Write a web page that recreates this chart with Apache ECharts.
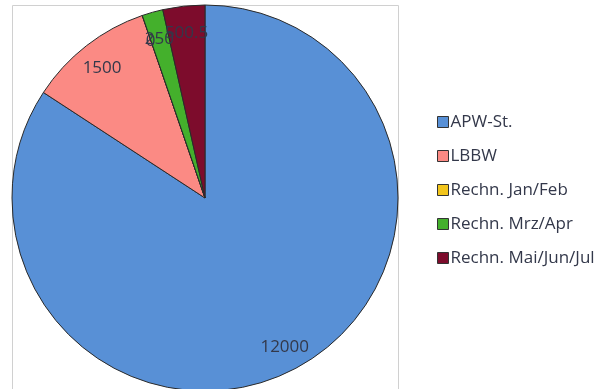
<!DOCTYPE html>
<html style="height: 100%">
<head>
<meta charset="utf-8">
<script src="https://cdn.jsdelivr.net/npm/echarts@6/dist/echarts.min.js"></script>
</head>
<body style="height: 100%; margin: 0; background: #fff">
<div id="container" style="width: 603px; height: 389px"></div>
<script type="text/javascript">
// slices, clockwise from 12 o'clock
var names = ['APW-St.', 'LBBW', 'Rechn. Jan/Feb', 'Rechn. Mrz/Apr', 'Rechn. Mai/Jun/Jul'];
var values = [12000, 1500, 0, 250, 500.5];
var colors = ['#5890d6', '#fb8a84', '#f2c51c', '#44b02c', '#7d0c2c'];

var pieData = names.map(function (n, i) {
    return { name: n, value: values[i], itemStyle: { color: colors[i] } };
});

var myChart = echarts.init(document.getElementById('container'));
var option = {
    backgroundColor: '#fff',
    animation: false,
    color: colors,
    graphic: [{
        type: 'rect',
        shape: { x: 12.5, y: 5.5, width: 386, height: 400 },
        style: { fill: 'none', stroke: '#d0d0d0', lineWidth: 1 },
        silent: true,
        z: -1
    }],
    legend: {
        orient: 'vertical',
        left: 432,
        top: 107,
        itemGap: 14,
        itemWidth: 11,
        itemHeight: 11,
        icon: 'rect',
        itemStyle: { borderColor: '#333', borderWidth: 1 },
        textStyle: { fontFamily: 'Open Sans', fontSize: 17, lineHeight: 20, color: '#33384a', padding: [0, 0, 0, -3] },
        data: names
    },
    series: [
        {
            name: 'pie',
            type: 'pie',
            center: [205, 198],
            radius: 193,
            startAngle: 90,
            clockwise: true,
            avoidLabelOverlap: false,
            itemStyle: { borderColor: '#2a2a2a', borderWidth: 1 },
            label: { show: false },
            labelLine: { show: false },
            emphasis: { disabled: true },
            data: pieData
        },
        {
            // transparent ring, only used to put the value labels near the rim
            name: 'labels',
            type: 'pie',
            center: [205, 200],
            radius: [136, 193],
            startAngle: 90,
            clockwise: true,
            silent: true,
            avoidLabelOverlap: false,
            labelLayout: { hideOverlap: false },
            itemStyle: { color: 'rgba(0,0,0,0)', borderWidth: 0 },
            label: {
                show: true,
                position: 'inside',
                fontFamily: 'Open Sans',
                fontSize: 17,
                color: '#33384a',
                formatter: '{c}'
            },
            labelLine: { show: false },
            data: names.map(function (n, i) { return { name: n, value: values[i], itemStyle: { color: 'rgba(0,0,0,0)' } }; })
        }
    ]
};
myChart.setOption(option);
</script>
</body>
</html>
